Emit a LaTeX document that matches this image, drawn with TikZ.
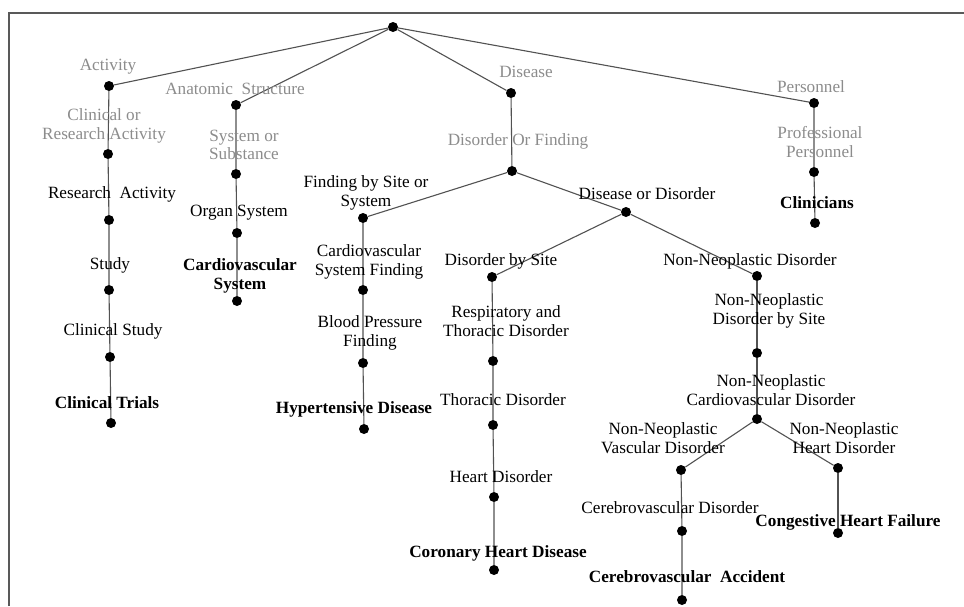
\documentclass[tikz,border=0pt]{standalone}
\usepackage{fontspec}
\setmainfont{Liberation Serif}
\usepackage{tikz}
\usetikzlibrary{arrows,calc}

\tikzset{
    dot/.style={circle, fill=black, inner sep=0pt, minimum size=10pt},
    edge/.style={draw=black!68, line width=1.1pt},
    lbl/.style={inner sep=0pt, align=center, font=\fontsize{17.2}{18.5}\selectfont},
    glbl/.style={lbl, text=black!45},
    blbl/.style={lbl, font=\fontsize{17.2}{18.5}\selectfont\bfseries}
}

\begin{document}
\begin{tikzpicture}[x=1pt, y=-1pt]
    %%Background
    \useasboundingbox (0,0) rectangle (964,606);
    \draw[black!65, line width=1.4pt] (9,606) -- (9,13) -- (964,13);
    %%

    %% dots
    \node[dot] (root) at (393,27) {};
    \node[dot] (act) at (109,86) {};
    \node[dot] (clinres) at (108,154) {};
    \node[dot] (resact) at (109,220) {};
    \node[dot] (study) at (109,290) {};
    \node[dot] (clinstudy) at (110,357) {};
    \node[dot] (trials) at (111,423) {};

    \node[dot] (anat) at (236,105) {};
    \node[dot] (syssub) at (236,174) {};
    \node[dot] (organ) at (237,233) {};
    \node[dot] (cvsys) at (237,301) {};

    \node[dot] (disease) at (511,93) {};
    \node[dot] (dof) at (512,171) {};
    \node[dot] (fbss) at (363,218) {};
    \node[dot] (cvsf) at (363,290) {};
    \node[dot] (bpf) at (363,363) {};
    \node[dot] (hyper) at (364,429) {};

    \node[dot] (dord) at (626,212) {};
    \node[dot] (dbs) at (492,277) {};
    \node[dot] (resp) at (493,361) {};
    \node[dot] (thor) at (493,425) {};
    \node[dot] (heart) at (494,497) {};
    \node[dot] (coron) at (494,570) {};

    \node[dot] (nnd) at (757,276) {};
    \node[dot] (nnds) at (757,353) {};
    \node[dot] (nncd) at (757,419) {};
    \node[dot] (nnvd) at (681,470) {};
    \node[dot] (nnhd) at (838,468) {};
    \node[dot] (cerebd) at (682,531) {};
    \node[dot] (cereba) at (682,600) {};
    \node[dot] (chf) at (838,533) {};

    \node[dot] (pers) at (814,103) {};
    \node[dot] (profpers) at (814,172) {};
    \node[dot] (clin) at (815,223) {};

    %% edges
    \draw[edge] (act) -- (root) -- (anat);
    \draw[edge] (disease) -- (root) -- (pers);
    \draw[edge] (act) -- (clinres) -- (resact) -- (study) -- (clinstudy) -- (trials);
    \draw[edge] (anat) -- (syssub) -- (organ) -- (cvsys);
    \draw[edge] (disease) -- (dof);
    \draw[edge] (fbss) -- (dof) -- (dord);
    \draw[edge] (fbss) -- (cvsf) -- (bpf) -- (hyper);
    \draw[edge] (dbs) -- (dord) -- (nnd);
    \draw[edge] (dbs) -- (resp) -- (thor) -- (heart) -- (coron);
    \draw[edge] (nnd) -- (nnds) -- (nncd);
    \draw[edge] (nnvd) -- (nncd) -- (nnhd);
    \draw[edge] (nnvd) -- (cerebd) -- (cereba);
    \draw[edge] (nnhd) -- (chf);
    \draw[edge] (pers) -- (profpers) -- (clin);

    %% labels
    \node[glbl] (tact) at (108,67) {Activity};
    \node[glbl] (tclinres) at (104,126) {Clinical or\\Research Activity};
    \node[lbl] (tresact) at (112,194) {Research\ \ Activity};
    \node[lbl] (tstudy) at (110,265) {Study};
    \node[lbl] (tclinstudy) at (113,331) {Clinical Study};
    \node[blbl] (ttrials) at (107,403) {Clinical Trials};

    \node[glbl] (tanat) at (235,89) {Anatomic\ \ Structure};
    \node[glbl] (tsyssub) at (244,145) {System or\\Substance};
    \node[lbl] (torgan) at (239,213) {Organ System};
    \node[blbl] (tcvsys) at (240,276) {Cardiovascular\\System};

    \node[glbl] (tdisease) at (526,72) {Disease};
    \node[glbl] (tdof) at (518,141) {Disorder Or Finding};
    \node[lbl] (tfbss) at (366,193) {Finding by Site or\\System};
    \node[lbl] (tcvsf) at (369,262) {Cardiovascular\\System Finding};
    \node[lbl] (tbpf) at (370,333) {Blood Pressure\\Finding};
    \node[blbl] (thyper) at (354,409) {Hypertensive Disease};

    \node[lbl] (tdord) at (647,194) {Disease or Disorder};
    \node[lbl] (tdbs) at (501,261) {Disorder by Site};
    \node[lbl] (tresp) at (506,321) {Respiratory and\\Thoracic Disorder};
    \node[lbl] (tthor) at (503,400) {Thoracic Disorder};
    \node[lbl] (theart) at (501,477) {Heart Disorder};
    \node[blbl] (tcoron) at (498,553) {Coronary Heart Disease};

    \node[lbl] (tnnd) at (750,261) {Non-Neoplastic Disorder};
    \node[lbl] (tnnds) at (769,311) {Non-Neoplastic\\Disorder by Site};
    \node[lbl] (tnncd) at (771,390) {Non-Neoplastic\\Cardiovascular Disorder};
    \node[lbl] (tnnvd) at (663,438) {Non-Neoplastic\\Vascular Disorder};
    \node[lbl] (tnnhd) at (844,438) {Non-Neoplastic\\Heart Disorder};
    \node[lbl] (tcerebd) at (670,508) {Cerebrovascular Disorder};
    \node[blbl] (tcereba) at (687,577) {Cerebrovascular\ \ Accident};
    \node[blbl] (tchf) at (848,522) {Congestive Heart Failure};

    \node[glbl] (tpers) at (811,87) {Personnel};
    \node[glbl] (tprofpers) at (820,142) {Professional\\Personnel};
    \node[blbl] (tclin) at (817,203) {Clinicians};
\end{tikzpicture}
\end{document}
